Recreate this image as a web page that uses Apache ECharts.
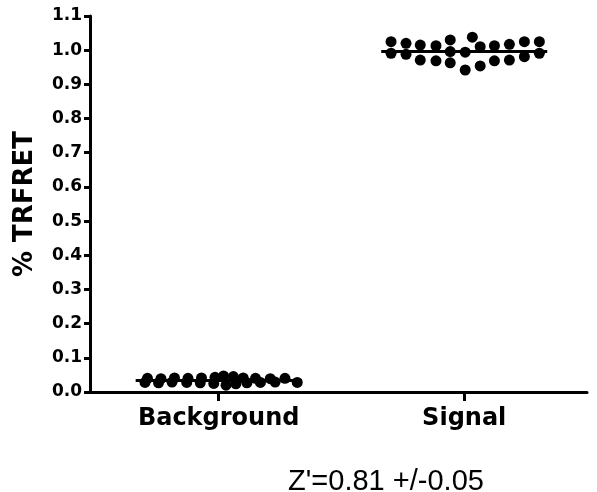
<!DOCTYPE html>
<html>
<head>
<meta charset="utf-8">
<script src="https://cdn.jsdelivr.net/npm/echarts@6/dist/echarts.min.js"></script>
<style>
  html, body { margin: 0; padding: 0; background: #fff; }
  #chart { width: 597px; height: 492px; }
</style>
</head>
<body>
<div id="chart"></div>
<script>
// groups on the x axis (1 = Background, 2 = Signal)
const categories = ['Background', 'Signal']
const yTicks = [0, 0.1, 0.2, 0.3, 0.4, 0.5, 0.6, 0.7, 0.8, 0.9, 1.0, 1.1]

// scatter spread of each dot, in category units
const backgroundJitter = [
  -0.29, -0.235, -0.18, -0.125, -0.07, -0.015, 0.02, 0.06, 0.1, 0.15, 0.21, 0.27,
  -0.3, -0.245, -0.19, -0.13, -0.075, -0.02, 0.03, 0.07, 0.115, 0.17, 0.23, 0.32
]
const backgroundValues = [
  0.040, 0.039, 0.041, 0.040, 0.041, 0.043, 0.047, 0.045, 0.041, 0.040, 0.039, 0.040,
  0.028, 0.027, 0.029, 0.028, 0.027, 0.025, 0.020, 0.024, 0.027, 0.028, 0.029, 0.028
]

const signalJitter = [
  -0.298, -0.237, -0.179, -0.115, -0.057, 0.033, 0.065, 0.123, 0.184, 0.245, 0.306,
  -0.298, -0.237, -0.179, -0.115, -0.057, 0.004, 0.065, 0.123, 0.184, 0.245, 0.306,
  -0.057, 0.004
]
const signalValues = [
  1.025, 1.020, 1.015, 1.013, 1.030, 1.038, 1.010, 1.013, 1.017, 1.025, 1.025,
  0.991, 0.988, 0.971, 0.969, 0.963, 0.942, 0.954, 0.969, 0.971, 0.981, 0.991,
  0.996, 0.994
]

const zPrime = "Z'=0.81 +/-0.05"

const mean = arr => arr.reduce((a, b) => a + b, 0) / arr.length
const toPoints = (pos, jitter, values) => values.map((v, i) => [pos + jitter[i], v])
const halfWidth = 0.338

const boldFont = 'DejaVu Sans'

var myChart = echarts.init(document.getElementById('chart'))
let option = {
  animation: false,
  grid: { left: 90, right: 10, top: 16, bottom: 100 },
  xAxis: {
    type: 'value',
    min: 0.476,
    max: 2.5,
    splitLine: { show: false },
    axisLine: { lineStyle: { color: '#000', width: 3 } },
    axisTick: { show: true, customValues: [1, 2], length: 9, lineStyle: { color: '#000', width: 3 } },
    axisLabel: {
      customValues: [1, 2],
      formatter: v => categories[Math.round(v) - 1] || '',
      color: '#000',
      fontFamily: boldFont,
      fontWeight: 'bold',
      fontSize: 24,
      margin: 15
    }
  },
  yAxis: {
    type: 'value',
    min: yTicks[0],
    max: yTicks[yTicks.length - 1],
    interval: 0.1,
    name: '% TRFRET',
    nameLocation: 'middle',
    nameGap: 52,
    nameTextStyle: { color: '#000', fontFamily: boldFont, fontWeight: 'bold', fontSize: 26 },
    splitLine: { show: false },
    axisLine: { show: true, lineStyle: { color: '#000', width: 3 } },
    axisTick: { show: true, length: 6, lineStyle: { color: '#000', width: 3 } },
    axisLabel: {
      color: '#000',
      fontFamily: boldFont,
      fontWeight: 'bold',
      fontSize: 17,
      margin: 8,
      formatter: v => v.toFixed(1)
    }
  },
  graphic: [
    {
      type: 'text',
      x: 386,
      y: 467,
      style: {
        text: zPrime,
        fill: '#000',
        font: '29px "Liberation Sans", Arial, sans-serif',
        textAlign: 'center',
        textVerticalAlign: 'top'
      }
    }
  ],
  series: [
    {
      name: categories[0],
      type: 'scatter',
      symbol: 'circle',
      symbolSize: 11,
      itemStyle: { color: '#000', opacity: 1 },
      data: toPoints(1, backgroundJitter, backgroundValues)
    },
    {
      name: categories[1],
      type: 'scatter',
      symbol: 'circle',
      symbolSize: 11,
      itemStyle: { color: '#000', opacity: 1 },
      data: toPoints(2, signalJitter, signalValues)
    },
    {
      type: 'line',
      symbol: 'none',
      lineStyle: { color: '#000', width: 3 },
      data: [[1 - halfWidth, mean(backgroundValues)], [1 + halfWidth, mean(backgroundValues)]]
    },
    {
      type: 'line',
      symbol: 'none',
      lineStyle: { color: '#000', width: 3 },
      data: [[2 - halfWidth, mean(signalValues)], [2 + halfWidth, mean(signalValues)]]
    }
  ]
}
myChart.setOption(option)
</script>
</body>
</html>
